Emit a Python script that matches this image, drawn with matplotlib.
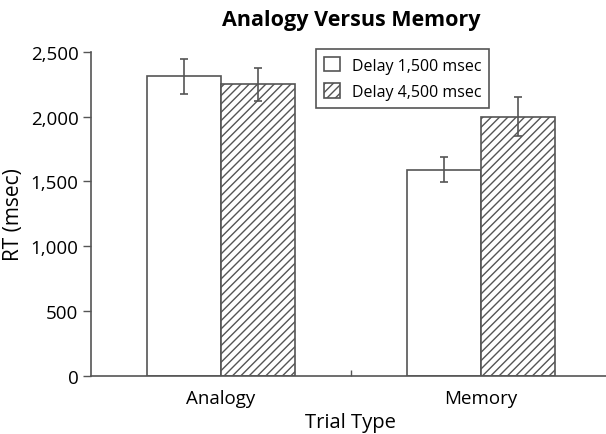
import numpy as np
import matplotlib.pyplot as plt
from matplotlib.ticker import FuncFormatter

plt.rcParams['font.family'] = ['Open Sans', 'DejaVu Sans']
plt.rcParams['hatch.linewidth'] = 1.0
plt.rcParams['hatch.color'] = '#222222'

# RT moyens (msec) et erreurs type par type d'essai
trial_types = ["Analogy", "Memory"]
delay_1500 = [2310, 1590]
delay_1500_err = [135, 98]
delay_4500 = [2250, 2000]
delay_4500_err = [128, 153]

edge = '#555555'
pos = np.arange(len(trial_types))
w = 0.285

fig = plt.figure(figsize=(6.06, 4.35), dpi=100)
# l'axe x deborde un peu a droite de la figure
ax = fig.add_axes([0.150, 0.1333, 0.858, 0.7455])

err_style = dict(ecolor=edge, elinewidth=1.2, capthick=1.2)
ax.bar(pos - w / 2, delay_1500, w, yerr=delay_1500_err, color='white',
       edgecolor=edge, linewidth=1.2, capsize=3, error_kw=err_style,
       label="Delay 1,500 msec")
ax.bar(pos + w / 2, delay_4500, w, yerr=delay_4500_err, color='white',
       edgecolor=edge, linewidth=1.2, hatch='////', capsize=3,
       error_kw=err_style, label="Delay 4,500 msec")

ax.set_xlim(-0.5, 1.5)
ax.set_ylim(0, 2500)
ax.set_yticks(np.arange(0, 2501, 500))
ax.yaxis.set_major_formatter(FuncFormatter(lambda v, p: f"{int(v):,}"))
ax.set_xticks(pos)
ax.set_xticklabels(trial_types)
ax.set_xticks([0.5], minor=True)
ax.tick_params(axis='x', which='major', length=0, pad=9, labelsize=13.5)
ax.tick_params(axis='x', which='minor', direction='in', length=4,
               color=edge, width=1)
ax.tick_params(axis='y', length=6, color=edge, width=1, labelsize=13.5,
               pad=3)

for s in ['top', 'right']:
    ax.spines[s].set_visible(False)
for s in ['left', 'bottom']:
    ax.spines[s].set_color(edge)
    ax.spines[s].set_linewidth(1.2)

ax.set_xlabel("Trial Type", fontsize=14.5, labelpad=4)
ax.set_ylabel("RT (msec)", fontsize=15, labelpad=5)
ax.set_title("Analogy Versus Memory", fontsize=15.5, fontweight='bold',
             pad=19)

leg = ax.legend(loc='upper left', bbox_to_anchor=(0.4327, 1.008),
                borderaxespad=0, fontsize=11.5, fancybox=False,
                framealpha=1, edgecolor=edge, handlelength=1.0,
                handleheight=1.0, handletextpad=0.75, borderpad=0.5,
                labelspacing=0.6)
leg.get_frame().set_linewidth(1.2)

fig.savefig("out.png", dpi=100)
